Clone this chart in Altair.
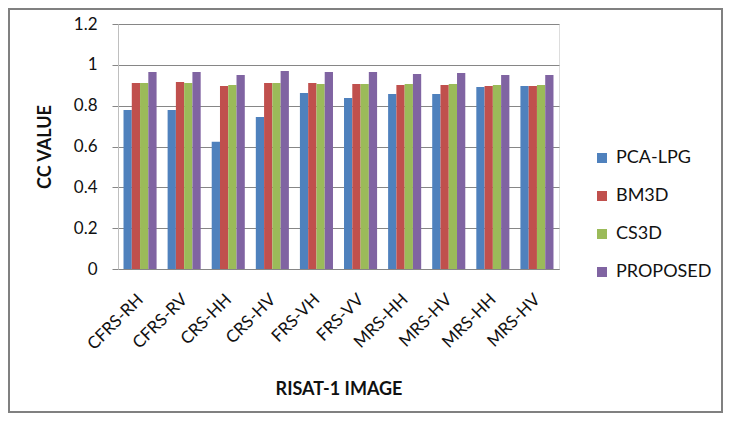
import altair as alt
import pandas as pd

categories = ["CFRS-RH", "CFRS-RV", "CRS-HH", "CRS-HV", "FRS-VH",
              "FRS-VV", "MRS-HH", "MRS-HV", "MRS-HH", "MRS-HV"]
series = ["PCA-LPG", "BM3D", "CS3D", "PROPOSED"]
pca_lpg = [0.779, 0.779, 0.623, 0.744, 0.862, 0.838, 0.857, 0.857, 0.891, 0.896]
bm3d = [0.911, 0.916, 0.896, 0.911, 0.911, 0.906, 0.901, 0.901, 0.896, 0.896]
cs3d = [0.911, 0.911, 0.901, 0.911, 0.906, 0.906, 0.906, 0.906, 0.901, 0.901]
proposed = [0.965, 0.965, 0.950, 0.970, 0.965, 0.965, 0.955, 0.960, 0.950, 0.950]
colors = ["#4F81BD", "#C0504D", "#9BBB59", "#8064A2"]
y_ticks = [0, 0.2, 0.4, 0.6, 0.8, 1.0, 1.2]

rows = []
for name, vals in zip(series, [pca_lpg, bm3d, cs3d, proposed]):
    for i, v in enumerate(vals):
        rows.append({"idx": i, "series": name, "value": v})
df = pd.DataFrame(rows)

label_expr = "[" + ",".join("'%s'" % c for c in categories) + "][datum.value]"

FONT = "Lato"
W, H = 441, 245
PL, PT, PR, PB = 110, 16, 164, 144

bars = alt.Chart(df).mark_bar().encode(
    x=alt.X("idx:O",
            scale=alt.Scale(paddingInner=0.25, paddingOuter=0.125),
            axis=alt.Axis(title="RISAT-1 IMAGE", labelExpr=label_expr,
                          labelAngle=-45, labelAlign="right", labelBaseline="top",
                          labelPadding=22, labelOffset=-5, ticks=False,
                          domainColor="#868686",
                          labelFont=FONT, labelFontSize=17, labelColor="#111111",
                          titleFont=FONT, titleFontSize=18, titleFontWeight="bold",
                          titleColor="#111111", titleX=W / 2, titleY=125,
                          titleBaseline="alphabetic", titleAlign="center")),
    xOffset=alt.XOffset("series:N", sort=series),
    y=alt.Y("value:Q",
            scale=alt.Scale(domain=[0, 1.2], nice=False),
            axis=alt.Axis(title="CC VALUE", values=y_ticks, format="~g",
                          grid=True, gridColor="#868686", gridWidth=1,
                          tickSize=6, tickColor="#868686", domainColor="#bfbfbf",
                          labelPadding=15, labelFont=FONT, labelFontSize=17,
                          labelColor="#111111",
                          titleFont=FONT, titleFontSize=18, titleFontWeight="bold",
                          titleColor="#111111", titleX=-68, titleY=H / 2,
                          titleAngle=270, titleAlign="center",
                          titleBaseline="alphabetic")),
    color=alt.Color("series:N", sort=series,
                    scale=alt.Scale(domain=series, range=colors),
                    legend=alt.Legend(title=None, orient="none", legendX=475,
                                      legendY=125, symbolType="square",
                                      symbolSize=100, symbolStrokeWidth=0,
                                      labelFont=FONT, labelFontSize=18,
                                      labelColor="#111111", labelOffset=5,
                                      rowPadding=20)),
)

border = alt.Chart(pd.DataFrame({"a": [0]})).mark_rect(
    fill=None, stroke="#808080", strokeWidth=2
).encode(
    x=alt.value(-PL + 1), x2=alt.value(W + PR - 1),
    y=alt.value(-PT + 1), y2=alt.value(H + PB - 1),
)

chart = alt.layer(border, bars).properties(
    width=W, height=H,
    autosize=alt.AutoSizeParams(type="none"),
    padding={"left": PL, "top": PT, "right": PR, "bottom": PB},
).configure_view(stroke=None).configure(background="white")

chart.save("out.html", embed_options={"renderer": "svg", "actions": False})
